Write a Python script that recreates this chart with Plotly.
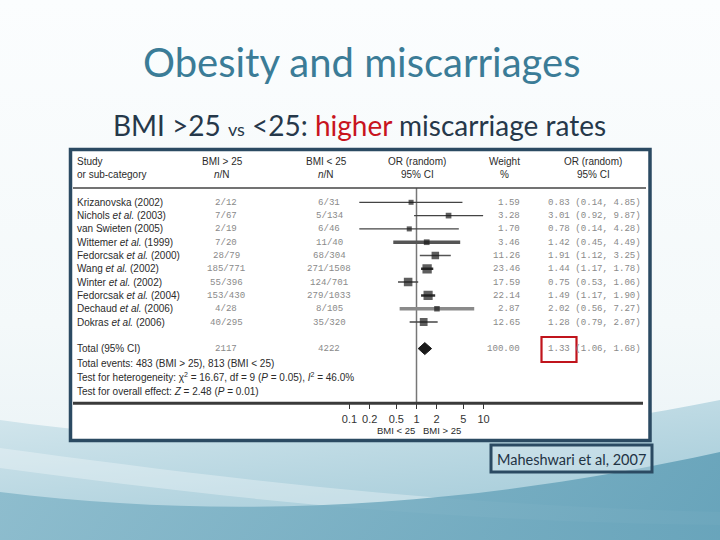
import base64
import math
import plotly.graph_objects as go

# ---------------- data ----------------
studies = ["Krizanovska (2002)", "Nichols <i>et al.</i> (2003)", "van Swieten (2005)",
           "Wittemer <i>et al.</i> (1999)", "Fedorcsak <i>et al.</i> (2000)", "Wang <i>et al.</i> (2002)",
           "Winter <i>et al.</i> (2002)", "Fedorcsak <i>et al.</i> (2004)", "Dechaud <i>et al.</i> (2006)",
           "Dokras <i>et al.</i> (2006)"]
events_hi = [2, 7, 2, 7, 28, 185, 55, 153, 4, 40]
total_hi = [12, 67, 19, 20, 79, 771, 396, 430, 28, 295]
events_lo = [6, 5, 6, 11, 68, 271, 124, 279, 8, 35]
total_lo = [31, 134, 46, 40, 304, 1508, 701, 1033, 105, 320]
weights = [1.59, 3.28, 1.70, 3.46, 11.26, 23.46, 17.59, 22.14, 2.87, 12.65]
odds = [0.83, 3.01, 0.78, 1.42, 1.91, 1.44, 0.75, 1.49, 2.02, 1.28]
ci_low = [0.14, 0.92, 0.14, 0.45, 1.12, 1.17, 0.53, 1.17, 0.56, 0.79]
ci_high = [4.85, 9.87, 4.28, 4.49, 3.25, 1.78, 1.06, 1.90, 7.27, 2.07]

total_or = 1.33
total_low = 1.06
total_high = 1.68
total_weight = 100.00
total_n_hi = 2117
total_n_lo = 4222

tick_vals = [0.1, 0.2, 0.5, 1, 2, 5, 10]
tick_text = ["0.1", "0.2", "0.5", "1", "2", "5", "10"]

# ---------------- styles ----------------
line_widths = [1.2, 1.2, 1.2, 3.5, 1.5, 2.5, 1.5, 2.5, 3.5, 1.5]
line_colors = ["#444", "#444", "#444", "#555", "#555", "#333", "#444", "#333", "#8a8a8a", "#444"]

W, H = 720, 540
def px(x):
    return x / W
def py(y):
    return 1 - y / H

ROW0 = 202.3
STEP = 13.3
AXIS_Y = 403.3

TXT = "Liberation Sans"
MONO = "Liberation Mono"
DARK = "#2b2b2b"
GRAY = "#8a8a8a"
MS = 9.1

# ---------------- background (svg gradient) ----------------
svg = """<svg xmlns="http://www.w3.org/2000/svg" width="720" height="540" viewBox="0 0 720 540" preserveAspectRatio="none">
<defs>
<linearGradient id="bg" x1="0" y1="0" x2="0" y2="1">
 <stop offset="0" stop-color="#fbfdfe"/>
 <stop offset="0.6" stop-color="#f4f9fa"/>
 <stop offset="1" stop-color="#e6f0f4"/>
</linearGradient>
<linearGradient id="w1" x1="0" y1="0" x2="0.6" y2="1">
 <stop offset="0" stop-color="#d6e8ee"/>
 <stop offset="1" stop-color="#a2cad8"/>
</linearGradient>
<linearGradient id="w2" x1="0" y1="0" x2="1" y2="0">
 <stop offset="0" stop-color="#86b8ca"/>
 <stop offset="1" stop-color="#5f9eb6"/>
</linearGradient>
</defs>
<rect width="720" height="540" fill="url(#bg)"/>
<path d="M0,420 C200,448 450,455 720,400 L720,540 L0,540 Z" fill="url(#w1)"/>
<path d="M0,448 C200,475 430,505 720,512 L720,525 C430,522 200,495 0,468 Z" fill="#ffffff" fill-opacity="0.3"/>
<path d="M0,492 C240,522 480,505 720,452 L720,540 L0,540 Z" fill="url(#w2)" fill-opacity="0.85"/>
</svg>"""
bg_uri = "data:image/svg+xml;base64," + base64.b64encode(svg.encode()).decode()

fig = go.Figure()

n = len(studies)
rows = list(range(n))

# CI lines
for i in rows:
    fig.add_trace(go.Scatter(
        x=[ci_low[i], ci_high[i]], y=[i, i], mode="lines",
        line=dict(color=line_colors[i], width=line_widths[i]),
        showlegend=False, hoverinfo="skip"))

# study squares
fig.add_trace(go.Scatter(
    x=odds, y=rows, mode="markers",
    marker=dict(symbol="square", color="#1a1a1a",
                size=[3.5 + 1.2 * math.sqrt(w) for w in weights], line=dict(width=0)),
    showlegend=False, hoverinfo="skip"))

# pooled diamond
TOT_ROW = 11
dh = 0.45
fig.add_trace(go.Scatter(
    x=[total_low, total_or, total_high, total_or, total_low],
    y=[TOT_ROW, TOT_ROW - dh, TOT_ROW, TOT_ROW + dh, TOT_ROW],
    mode="lines", fill="toself", fillcolor="#1a1a1a", line=dict(color="#1a1a1a", width=1),
    showlegend=False, hoverinfo="skip"))

shapes = []
# main frame
shapes.append(dict(type="rect", xref="paper", yref="paper", x0=px(70.5), x1=px(650), y0=py(149.5), y1=py(440.5),
                   line=dict(color="#2b4a62", width=3.5), fillcolor="white", layer="below"))
# header rule
shapes.append(dict(type="line", xref="paper", yref="paper", x0=px(73), x1=px(646), y0=py(188), y1=py(188),
                   line=dict(color="#444", width=1.5)))
# bottom axis rule
shapes.append(dict(type="line", xref="paper", yref="paper", x0=px(73), x1=px(643), y0=py(AXIS_Y), y1=py(AXIS_Y),
                   line=dict(color="#3a3a3a", width=3)))
# line of no effect
shapes.append(dict(type="line", xref="x", yref="paper", x0=1, x1=1, y0=py(188), y1=py(AXIS_Y),
                   line=dict(color="#777", width=1.5), layer="below"))
# red highlight box
shapes.append(dict(type="rect", xref="paper", yref="paper", x0=px(541.5), x1=px(576.5), y0=py(337), y1=py(362),
                   line=dict(color="#c0141c", width=2.2)))
# citation box
shapes.append(dict(type="rect", xref="paper", yref="paper", x0=px(491), x1=px(652), y0=py(445), y1=py(472),
                   line=dict(color="#2b4a62", width=3), fillcolor="rgba(225,238,243,0.35)"))

ann = []
def A(text, x, y, xanchor="center", size=10, color=DARK, family=TXT, yref="y"):
    ann.append(dict(text=text, x=px(x), xref="paper", y=y if yref == "y" else py(y), yref=yref,
                    xanchor=xanchor, yanchor="middle", showarrow=False,
                    font=dict(family=family, size=size, color=color)))

# slide title / subtitle
A("Obesity and miscarriages", 361, 62, size=40, color="#3b7c97", family="Lato", yref="paper")
A("BMI &gt;25 <span style='font-size:18px'>vs</span> &lt;25: <span style='color:#c8141e'>higher</span> miscarriage rates",
  359, 125, size=28, color="#26384a", family="Lato", yref="paper")
A("Maheshwari et al, 2007", 571, 459, size=14.5, color="#1f3344", family="Lato", yref="paper")

# headers
HY1 = (161.3 - ROW0) / STEP
HY2 = (174.5 - ROW0) / STEP
A("Study", 75, HY1, xanchor="left")
A("or sub-category", 75, HY2, xanchor="left")
A("BMI &gt; 25", 222, HY1)
A("<i>n</i>/N", 222, HY2)
A("BMI &lt; 25", 326, HY1)
A("<i>n</i>/N", 326, HY2)
A("OR (random)", 417, HY1)
A("95% CI", 417, HY2)
A("Weight", 505, HY1)
A("%", 505, HY2)
A("OR (random)", 593, HY1)
A("95% CI", 593, HY2)

# study rows
for i in rows:
    A(studies[i], 75, i, xanchor="left")
    A(f"{events_hi[i]}/{total_hi[i]}", 226, i, size=MS, color=GRAY, family=MONO)
    A(f"{events_lo[i]}/{total_lo[i]}", 329, i, size=MS, color=GRAY, family=MONO)
    A(f"{weights[i]:.2f}", 522, i, xanchor="right", size=MS, color=GRAY, family=MONO)
    A(f"{odds[i]:.2f} ({ci_low[i]:.2f}, {ci_high[i]:.2f})", 546, i, xanchor="left", size=MS, color=GRAY, family=MONO)

# totals
A("Total (95% CI)", 75, TOT_ROW, xanchor="left")
A(f"{total_n_hi}", 226, TOT_ROW, size=MS, color=GRAY, family=MONO)
A(f"{total_n_lo}", 329, TOT_ROW, size=MS, color=GRAY, family=MONO)
A(f"{total_weight:.2f}", 522, TOT_ROW, xanchor="right", size=MS, color=GRAY, family=MONO)
A(f"{total_or:.2f} ({total_low:.2f}, {total_high:.2f})", 546, TOT_ROW, xanchor="left", size=MS, color=GRAY, family=MONO)
A(f"Total events: {sum(events_hi)} (BMI &gt; 25), {sum(events_lo)} (BMI &lt; 25)", 75, 12.1, xanchor="left")
A("Test for heterogeneity: χ<sup>2</sup> = 16.67, df = 9 (<i>P</i> = 0.05), <i>I</i><sup>2</sup> = 46.0%", 75, 13.15, xanchor="left")
A("Test for overall effect: <i>Z</i> = 2.48 (<i>P</i> = 0.01)", 75, 14.2, xanchor="left")

# axis direction labels
A("BMI &lt; 25", 395.5, 430, size=9.5, yref="paper")
A("BMI &gt; 25", 441.5, 430, size=9.5, yref="paper")

# axes mapping: 1 -> x=416.5 px, 67 px per decade
X_LEFT, X_RIGHT, X_ONE, PPD = 330, 500, 416.5, 67.0
xr = [(X_LEFT - X_ONE) / PPD, (X_RIGHT - X_ONE) / PPD]
yr = [(AXIS_Y - ROW0) / STEP, (0 - ROW0) / STEP]

fig.update_layout(
    width=W, height=H, margin=dict(l=0, r=0, t=0, b=0),
    paper_bgcolor="#f6fafb", plot_bgcolor="rgba(0,0,0,0)",
    images=[dict(source=bg_uri, xref="paper", yref="paper", x=0, y=1, sizex=1, sizey=1,
                 sizing="stretch", xanchor="left", yanchor="top", layer="below")],
    shapes=shapes, annotations=ann,
    xaxis=dict(type="log", range=xr, domain=[px(X_LEFT), px(X_RIGHT)], showgrid=False, zeroline=False,
               showline=False, tickvals=tick_vals, ticktext=tick_text, ticks="outside", ticklen=5,
               tickcolor="#333", tickwidth=1, tickfont=dict(family=TXT, size=11, color="#333")),
    yaxis=dict(range=yr, domain=[1 - AXIS_Y / H, 1], visible=False),
    showlegend=False,
)

fig.write_html("out.html", config={"displayModeBar": False},
               post_script="document.body.style.margin='0';document.body.style.overflow='hidden';")
